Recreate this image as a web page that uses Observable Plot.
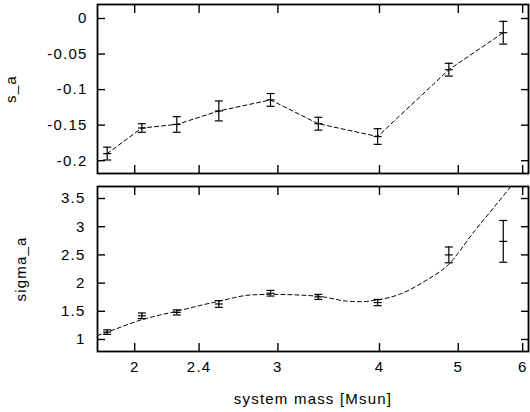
<!DOCTYPE html>
<html>
<head>
<meta charset="utf-8">
<script src="https://cdn.jsdelivr.net/npm/d3@7"></script>
<script src="https://cdn.jsdelivr.net/npm/@observablehq/plot@0.6"></script>
<style>
  html, body { margin: 0; padding: 0; background: white; }
  #chart svg { display: block; }
</style>
</head>
<body>
<div id="chart"></div>
<script>
// ---- data ----
const mass = [1.850, 2.041, 2.253, 2.538, 2.938, 3.364, 3.979, 4.868, 5.679];
const sA = [-0.190, -0.154, -0.149, -0.130, -0.1145, -0.148, -0.166, -0.072, -0.020];
const sAErr = [0.009, 0.006, 0.011, 0.014, 0.009, 0.009, 0.011, 0.009, 0.016];
const sigmaA = [1.13, 1.42, 1.48, 1.63, 1.82, 1.755, 1.655, 2.50, 2.74];
const sigmaAErr = [0.04, 0.05, 0.045, 0.06, 0.05, 0.045, 0.055, 0.14, 0.37];

// dashed fit curve in the lower panel
const fitMass = [1.80, 1.85, 2.04, 2.25, 2.54, 2.78, 2.94, 3.35, 3.65, 3.79, 3.97, 4.25, 4.53, 4.87, 5.24, 5.45, 5.80];
const fitSigma = [1.07, 1.13, 1.35, 1.50, 1.68, 1.79, 1.80, 1.77, 1.68, 1.67, 1.70, 1.81, 2.02, 2.34, 2.93, 3.23, 3.71];

const xTicks = [2, 2.4, 3, 4, 5, 6];
const xTickLabels = ["2", "2.4", "3", "4", "5", "6"];
const topYTicks = [0, -0.05, -0.1, -0.15, -0.2];
const topYTickLabels = ["0", "-0.05", "-0.1", "-0.15", "-0.2"];
const botYTicks = [1, 1.5, 2, 2.5, 3, 3.5];
const botYTickLabels = ["1", "1.5", "2", "2.5", "3", "3.5"];

const xLabel = "system mass [Msun]";
const topYLabel = "s_a";
const botYLabel = "sigma_a";

// ---- tables built from the arrays ----
const pts = mass.map((m, i) => ({
  m, s: sA[i], sLo: sA[i] - sAErr[i], sHi: sA[i] + sAErr[i],
  g: sigmaA[i], gLo: sigmaA[i] - sigmaAErr[i], gHi: sigmaA[i] + sigmaAErr[i]
}));
const fit = fitMass.map((m, i) => ({m, v: fitSigma[i]}));

const capSymbol = {
  draw(ctx, size) {
    const w = Math.sqrt(size / Math.PI);
    ctx.moveTo(-w, 0);
    ctx.lineTo(w, 0);
  }
};

const style = {
  fontFamily: "'Liberation Sans', Arial, Helvetica, sans-serif",
  fontSize: "15px",
  letterSpacing: "1.2px",
  background: "white",
  color: "black",
  overflow: "visible"
};

const xScale = {type: "log", domain: [1.8, 6.1]};
const fmt = (ticks, labels) => d => labels[ticks.indexOf(d)];

function frameAxes(yTicks, yLabels, showXText, yPad) {
  return [
    Plot.axisX({anchor: "bottom", ticks: xTicks, tickSize: -8, fill: "none", strokeWidth: 1.4}),
    Plot.axisX({anchor: "top", ticks: xTicks, tickSize: -8, fill: "none", strokeWidth: 1.4}),
    Plot.axisY({anchor: "left", ticks: yTicks, tickSize: -8, fill: "none", strokeWidth: 1.4}),
    Plot.axisY({anchor: "right", ticks: yTicks, tickSize: -8, fill: "none", strokeWidth: 1.4}),
    Plot.axisY({anchor: "left", ticks: yTicks, tickSize: 0, tickPadding: yPad,
      tickFormat: fmt(yTicks, yLabels), label: null}),
    showXText ? Plot.axisX({anchor: "bottom", ticks: xTicks, tickSize: 0, tickPadding: 10,
      tickFormat: fmt(xTicks, xTickLabels), label: null}) : null,
    Plot.frame({stroke: "black", strokeWidth: 1.8})
  ];
}

function errorMarks(y, lo, hi) {
  return [
    Plot.ruleX(pts, {x: "m", y1: lo, y2: hi, stroke: "black", strokeWidth: 1.2}),
    Plot.dot(pts, {x: "m", y: lo, symbol: capSymbol, r: 4, fill: "none", stroke: "black", strokeWidth: 1.2}),
    Plot.dot(pts, {x: "m", y: hi, symbol: capSymbol, r: 4, fill: "none", stroke: "black", strokeWidth: 1.2}),
    Plot.dot(pts, {x: "m", y: y, symbol: capSymbol, r: 4, fill: "none", stroke: "black", strokeWidth: 1.2})
  ];
}

const topPanel = Plot.plot({
  width: 530, height: 178,
  marginTop: 4, marginBottom: 5, marginLeft: 97, marginRight: 2,
  style,
  x: xScale,
  y: {domain: [-0.218, 0.0197]},
  marks: [
    Plot.line(pts, {x: "m", y: "s", stroke: "black", strokeWidth: 1, strokeDasharray: "4,3"}),
    ...errorMarks("s", "sLo", "sHi"),
    ...frameAxes(topYTicks, topYTickLabels, false, 10),
    Plot.text([topYLabel], {text: d => d, frameAnchor: "left", rotate: -90, dx: -82,
      lineAnchor: "bottom", textAnchor: "middle"})
  ]
});

const bottomPanel = Plot.plot({
  width: 530, height: 234,
  marginTop: 8, marginBottom: 61, marginLeft: 97, marginRight: 2,
  style,
  x: xScale,
  y: {domain: [0.787, 3.713]},
  marks: [
    Plot.line(fit, {x: "m", y: "v", curve: "monotone-x", clip: true, stroke: "black",
      strokeWidth: 1, strokeDasharray: "4,3"}),
    ...errorMarks("g", "gLo", "gHi"),
    ...frameAxes(botYTicks, botYTickLabels, true, 12),
    Plot.text([botYLabel], {text: d => d, frameAnchor: "left", rotate: -90, dx: -72,
      lineAnchor: "bottom", textAnchor: "middle"}),
    Plot.text([xLabel], {text: d => d, frameAnchor: "bottom", dy: 52, lineAnchor: "bottom"})
  ]
});

const chart = document.getElementById("chart");
chart.appendChild(topPanel);
chart.appendChild(bottomPanel);
</script>
</body>
</html>
